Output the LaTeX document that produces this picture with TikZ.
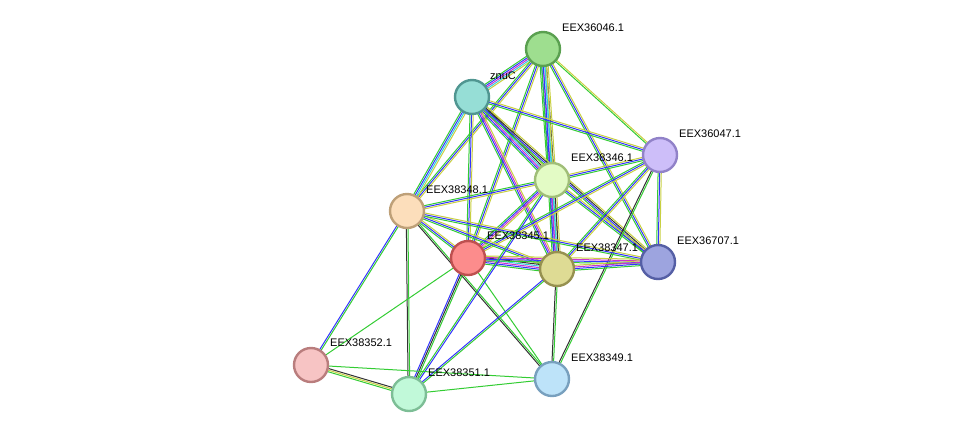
\documentclass[tikz,border=0pt]{standalone}
\usepackage{fontspec}
\setmainfont{Liberation Sans}
\usetikzlibrary{calc,backgrounds}
\definecolor{cG}{HTML}{33CC33}
\definecolor{cB}{HTML}{3333FF}
\definecolor{cM}{HTML}{CC33CC}
\definecolor{cC}{HTML}{33CCDD}
\definecolor{cK}{HTML}{333333}
\definecolor{cY}{HTML}{C8D040}
\tikzset{
  prot/.style={circle,minimum size=34pt,inner sep=0pt,line width=2.4pt},
  lab/.style={anchor=west,font=\fontsize{11}{12}\selectfont,inner sep=1pt},
}
\newcommand\sedge[4]{%
  \foreach \c [count=\i] in {#4}{%
    \pgfmathsetmacro\off{(\i-(#3+1)/2)*1.6}%
    \draw[\c,line width=1pt] ($(#1)!\off pt!90:(#2)$) -- ($(#2)!\off pt!-90:(#1)$);
  }}
\begin{document}
\begin{tikzpicture}[x=1pt,y=-1pt]
\useasboundingbox (0,0) rectangle (975,440);
\node[prot,fill={rgb,255:red,158;green,222;blue,143},draw={rgb,255:red,90;green,160;blue,80}] (a) at (543,49) {};
\node[prot,fill={rgb,255:red,150;green,222;blue,214},draw={rgb,255:red,80;green,150;blue,145}] (z) at (472,97) {};
\node[prot,fill={rgb,255:red,205;green,190;blue,249},draw={rgb,255:red,145;green,130;blue,200}] (b) at (660,155) {};
\node[prot,fill={rgb,255:red,227;green,251;blue,197},draw={rgb,255:red,160;green,190;blue,120}] (c) at (552,180) {};
\node[prot,fill={rgb,255:red,252;green,222;blue,187},draw={rgb,255:red,190;green,160;blue,120}] (d) at (407,211) {};
\node[prot,fill={rgb,255:red,252;green,140;blue,140},draw={rgb,255:red,190;green,80;blue,80}] (e) at (468,258) {};
\node[prot,fill={rgb,255:red,222;green,219;blue,148},draw={rgb,255:red,150;green,145;blue,80}] (f) at (557,269) {};
\node[prot,fill={rgb,255:red,157;green,164;blue,223},draw={rgb,255:red,85;green,95;blue,165}] (g) at (658,262) {};
\node[prot,fill={rgb,255:red,247;green,196;blue,196},draw={rgb,255:red,185;green,125;blue,125}] (h) at (311,365) {};
\node[prot,fill={rgb,255:red,193;green,249;blue,217},draw={rgb,255:red,125;green,190;blue,150}] (i) at (409,394) {};
\node[prot,fill={rgb,255:red,189;green,227;blue,249},draw={rgb,255:red,120;green,160;blue,190}] (j) at (552,379) {};
\node[lab] at (561,28) {EEX36046.1};
\node[lab] at (489,76) {znuC};
\node[lab] at (678,134) {EEX36047.1};
\node[lab] at (570,158) {EEX38346.1};
\node[lab] at (425,190) {EEX38348.1};
\node[lab] at (486,236) {EEX38345.1};
\node[lab] at (575,248) {EEX38347.1};
\node[lab] at (676,241) {EEX36707.1};
\node[lab] at (329,343) {EEX38352.1};
\node[lab] at (427,373) {EEX38351.1};
\node[lab] at (570,358) {EEX38349.1};
\begin{pgfonlayer}{background}
\sedge{a}{z}{5}{cG,cB,cM,cC,cY}
\sedge{a}{c}{6}{cG,cB,cM,cC,cK,cY}
\sedge{a}{b}{2}{cG,cY}
\sedge{a}{d}{3}{cG,cB,cY}
\sedge{a}{e}{3}{cG,cB,cY}
\sedge{a}{f}{4}{cG,cB,cC,cY}
\sedge{a}{g}{3}{cG,cB,cY}
\sedge{z}{c}{6}{cG,cB,cM,cC,cK,cY}
\sedge{z}{d}{4}{cG,cB,cC,cY}
\sedge{z}{e}{3}{cG,cB,cY}
\sedge{z}{f}{4}{cG,cB,cM,cY}
\sedge{z}{g}{4}{cG,cB,cK,cY}
\sedge{z}{b}{3}{cG,cB,cY}
\sedge{c}{b}{3}{cG,cB,cY}
\sedge{c}{d}{3}{cG,cB,cY}
\sedge{c}{e}{4}{cG,cB,cM,cY}
\sedge{c}{f}{6}{cG,cB,cM,cC,cK,cY}
\sedge{c}{g}{3}{cG,cB,cY}
\sedge{b}{f}{3}{cG,cB,cY}
\sedge{b}{g}{3}{cG,cB,cY}
\sedge{b}{e}{3}{cG,cB,cY}
\sedge{b}{j}{2}{cK,cG}
\sedge{d}{e}{3}{cG,cB,cY}
\sedge{d}{f}{3}{cG,cB,cY}
\sedge{d}{g}{3}{cG,cB,cY}
\sedge{d}{h}{2}{cB,cG}
\sedge{d}{i}{2}{cK,cG}
\sedge{d}{j}{2}{cK,cG}
\sedge{e}{f}{6}{cG,cB,cM,cC,cK,cY}
\sedge{e}{g}{4}{cG,cB,cM,cY}
\sedge{e}{i}{3}{cB,cK,cG}
\sedge{e}{j}{1}{cG}
\sedge{e}{h}{1}{cG}
\sedge{f}{g}{4}{cG,cB,cM,cY}
\sedge{f}{j}{2}{cK,cG}
\sedge{f}{i}{2}{cB,cG}
\sedge{c}{i}{2}{cG,cB}
\sedge{h}{i}{3}{cG,cY,cK}
\sedge{h}{j}{1}{cG}
\sedge{i}{j}{1}{cG}
\end{pgfonlayer}
\end{tikzpicture}
\end{document}
